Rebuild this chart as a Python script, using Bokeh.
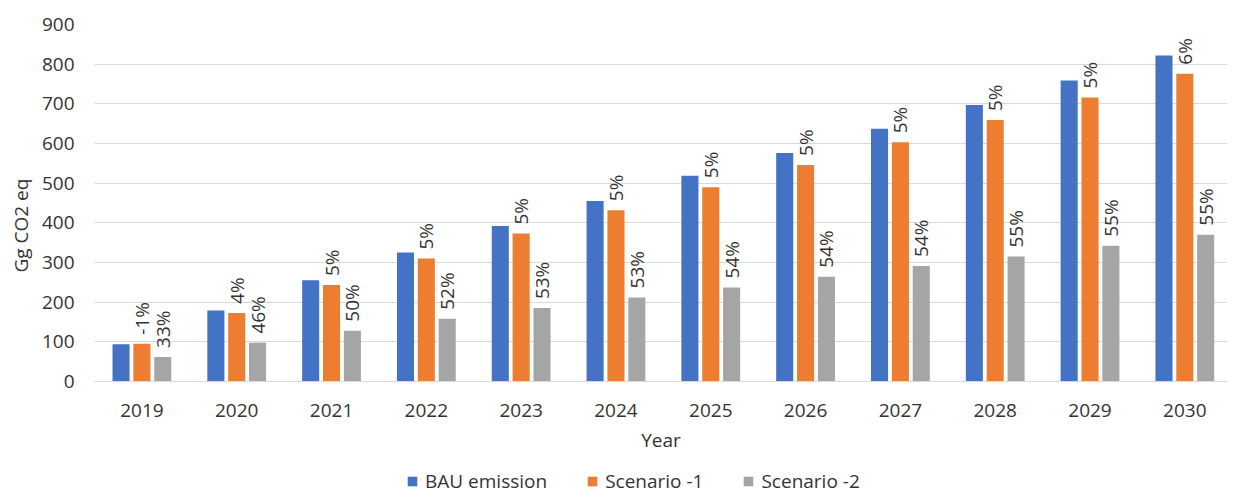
import math
from bokeh.plotting import figure
from bokeh.models import ColumnDataSource, Range1d, FixedTicker, Legend, LegendItem, Title
from bokeh.transform import dodge
from bokeh.core.properties import value
from bokeh.embed import file_html
from bokeh.resources import INLINE

years = ["2019", "2020", "2021", "2022", "2023", "2024", "2025", "2026", "2027", "2028", "2029", "2030"]
bau_emission = [94, 179, 255, 325, 392, 455, 519, 576, 637, 697, 759, 822]
scenario_1 = [95, 173, 243, 310, 373, 432, 490, 546, 603, 659, 716, 776]
scenario_2 = [62, 98, 128, 158, 185, 212, 237, 264, 291, 315, 342, 370]
scenario_1_pct = ["-1%", "4%", "5%", "5%", "5%", "5%", "5%", "5%", "5%", "5%", "5%", "6%"]
scenario_2_pct = ["33%", "46%", "50%", "52%", "53%", "53%", "54%", "54%", "54%", "55%", "55%", "55%"]
y_ticks = [0, 100, 200, 300, 400, 500, 600, 700, 800, 900]

FONT = "Open Sans"
FS = "19px"
TXT = "#333333"

# frame extends below zero so that the axis texts and legend sit inside it
Y_MAX = 900
Y_MIN = -Y_MAX * 113 / 357

xs = list(range(len(years)))
src = ColumnDataSource(dict(x=xs, bau=bau_emission, s1=scenario_1, s2=scenario_2,
                            s1p=scenario_1_pct, s2p=scenario_2_pct))

p = figure(width=1227, height=494, output_backend="svg", toolbar_location=None,
           x_range=Range1d(-0.5, 11.45), y_range=Range1d(Y_MIN, Y_MAX),
           min_border_left=92, min_border_right=0, min_border_top=24, min_border_bottom=0)
p.outline_line_color = None
p.background_fill_color = "white"
p.border_fill_color = "white"

r1 = p.vbar(x=dodge("x", -0.22), top="bau", width=0.18, source=src,
            fill_color="#4472C4", line_color=None)
r2 = p.vbar(x=dodge("x", 0.0), top="s1", width=0.18, source=src,
            fill_color="#ED7D31", line_color=None)
r3 = p.vbar(x=dodge("x", 0.22), top="s2", width=0.18, source=src,
            fill_color="#A5A5A5", line_color=None)

for col, txt, off in (("s1", "s1p", 0.0), ("s2", "s2p", 0.22)):
    p.text(x=dodge("x", off), y=col, text=txt, source=src, angle=math.pi / 2,
           text_align="left", text_baseline="middle", y_offset=-9,
           text_font=value(FONT), text_font_size=FS, text_color=TXT)

# axes
p.xaxis.ticker = FixedTicker(ticks=xs)
p.xaxis.major_label_overrides = {i: y for i, y in enumerate(years)}
p.xaxis.axis_label = "Year"
p.xaxis.fixed_location = 0
p.yaxis.ticker = FixedTicker(ticks=y_ticks)
for ax in (p.xaxis, p.yaxis):
    ax.major_tick_line_color = None
    ax.minor_tick_line_color = None
    ax.major_tick_out = 0
    ax.major_label_text_font = FONT
    ax.major_label_text_font_size = FS
    ax.major_label_text_color = TXT
    ax.axis_label_text_font = FONT
    ax.axis_label_text_font_size = FS
    ax.axis_label_text_color = TXT
    ax.axis_label_text_font_style = "normal"
p.yaxis.axis_line_color = None
p.xaxis.axis_line_color = "#d9d9d9"
p.yaxis.major_label_standoff = 20
p.xaxis.major_label_standoff = 22
p.xaxis.axis_label_standoff = 7

# y-axis title, placed like the reference (lower than centre)
ytitle = Title(text="Gg CO2 eq", align="left", offset=222, standoff=10,
               text_font=FONT, text_font_size=FS, text_color=TXT, text_font_style="normal")
p.add_layout(ytitle, "left")

p.xgrid.grid_line_color = None
p.ygrid.grid_line_color = "#d9d9d9"
p.ygrid.grid_line_width = 1

legend = Legend(items=[LegendItem(label="BAU emission", renderers=[r1]),
                       LegendItem(label="Scenario -1", renderers=[r2]),
                       LegendItem(label="Scenario -2", renderers=[r3])],
                orientation="horizontal", location=(312, 0),
                border_line_color=None, background_fill_alpha=0,
                padding=0, margin=0, spacing=39, glyph_width=12, glyph_height=12,
                label_standoff=7, label_text_font=FONT, label_text_font_size=FS,
                label_text_color=TXT, label_height=20)
p.add_layout(legend)

open("out.html", "w").write(file_html(p, INLINE))
